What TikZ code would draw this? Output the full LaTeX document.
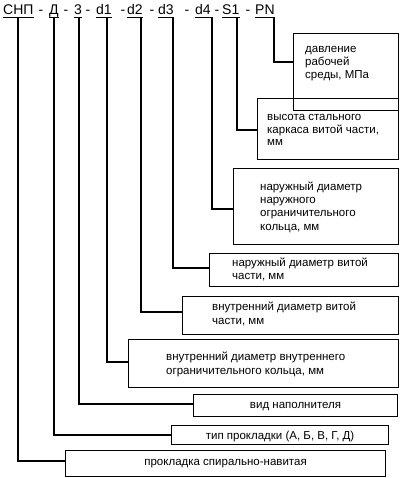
\documentclass[tikz,border=0pt]{standalone}
\usepackage{fontspec}
\setmainfont{Liberation Sans}
\begin{document}
\begin{tikzpicture}[x=1pt,y=-1pt,
  hdr/.style={inner sep=0pt,anchor=base west,font=\fontsize{14}{16}\selectfont},
  txt/.style={inner sep=0pt,anchor=base west,font=\fontsize{11.5}{13}\selectfont},
  ctxt/.style={inner sep=0pt,anchor=base,font=\fontsize{11.5}{13}\selectfont},
  box/.style={draw,line width=1.1pt,inner sep=0pt,anchor=north west},
  conn/.style={line width=1.4pt},
  uline/.style={line width=0.9pt}]
\useasboundingbox (0,0) rectangle (400,478);
% header tokens
\node[hdr] (tA) at (3,15) {СНП};
\node[hdr] (tB) at (49,15) {Д};
\node[hdr] (tC) at (74,15) {3};
\node[hdr] (tD) at (96,15) {d1};
\node[hdr] (tE) at (127,15) {d2};
\node[hdr] (tF) at (158,15) {d3};
\node[hdr] (tG) at (195,15) {d4};
\node[hdr] (tH) at (222,15) {S1};
\node[hdr] (tI) at (255,15) {PN};
\foreach \x/\n in {41/a,66/b,88/c,123/d,152/e,187/f,217/g,248/h}
  \node[hdr,anchor=base] (dash\n) at (\x,15) {-};
\foreach \t in {tA,tB,tC,tD,tE,tF,tG,tH,tI}
  \draw[uline] ([yshift=-2.5pt]\t.base west) -- ([yshift=-2.5pt]\t.base east);
% connector starts
\coordinate (vA) at (18,17.5);
\coordinate (vB) at (54,17.5);
\coordinate (vC) at (79,17.5);
\coordinate (vD) at (107,17.5);
\coordinate (vE) at (141,17.5);
\coordinate (vF) at (173,17.5);
\coordinate (vG) at (212,17.5);
\coordinate (vH) at (237,17.5);
\coordinate (vI) at (274,17.5);
% boxes
\node[box,minimum width=105pt,minimum height=77pt] (bI) at (293,33) {};
\node[box,minimum width=141pt,minimum height=61pt] (bH) at (257,98) {};
\node[box,minimum width=165pt,minimum height=76pt] (bG) at (233,168) {};
\node[box,minimum width=189pt,minimum height=33pt] (bF) at (209,253) {};
\node[box,minimum width=216pt,minimum height=38pt] (bE) at (182,296) {};
\node[box,minimum width=270pt,minimum height=48pt] (bD) at (128,339) {};
\node[box,minimum width=204pt,minimum height=22pt] (bC) at (193,394) {};
\node[box,minimum width=217pt,minimum height=19pt] (bB) at (171,425) {};
\node[box,minimum width=320pt,minimum height=26pt] (bA) at (65,450) {};
% texts
\node[txt] (xI1) at (305,53) {давление};
\node[txt] (xI2) at (305,66) {рабочей};
\node[txt] (xI3) at (305,79) {среды, МПа};
\node[txt] (xH1) at (267,121) {высота стального};
\node[txt] (xH2) at (267,133.5) {каркаса витой части,};
\node[txt] (xH3) at (267,146) {мм};
\node[txt] (xG1) at (260,190) {наружный диаметр};
\node[txt] (xG2) at (260,203) {наружного};
\node[txt] (xG3) at (260,216) {ограничительного};
\node[txt] (xG4) at (260,230) {кольца, мм};
\node[txt] (xF1) at (232,266) {наружный диаметр витой};
\node[txt] (xF2) at (232,279) {части, мм};
\node[txt] (xE1) at (212,310) {внутренний диаметр витой};
\node[txt] (xE2) at (212,324) {части, мм};
\node[txt] (xD1) at (166,360) {внутренний диаметр внутреннего};
\node[txt] (xD2) at (166,374) {ограничительного кольца, мм};
\node[ctxt] (xC) at (bC.center |- 0,408) {вид наполнителя};
\node[ctxt] (xB) at (bB.center |- 0,439) {тип прокладки (А, Б, В, Г, Д)};
\node[ctxt] (xA) at (bA.center |- 0,465) {прокладка спирально-навитая};
% connectors
\draw[conn] (vI) |- (bI.west |- 0,62);
\draw[conn] (vH) |- (bH.west |- 0,130);
\draw[conn] (vG) |- (bG.west |- 0,209);
\draw[conn] (vF) |- (bF.west |- 0,268);
\draw[conn] (vE) |- (bE.west |- 0,312);
\draw[conn] (vD) |- (bD.west |- 0,362);
\draw[conn] (vC) |- (bC.west |- 0,404);
\draw[conn] (vB) |- (bB.west |- 0,435);
\draw[conn] (vA) |- (bA.west |- 0,461);
\end{tikzpicture}
\end{document}
